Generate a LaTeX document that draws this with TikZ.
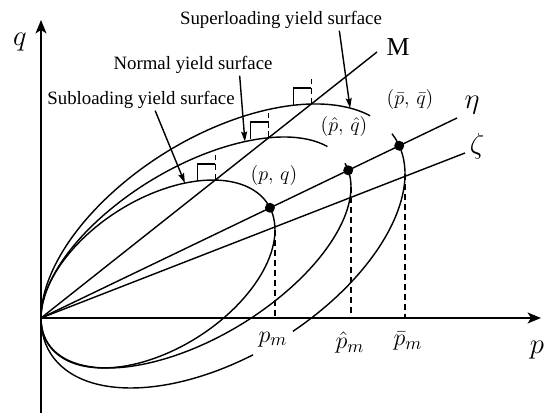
\documentclass[tikz,border=0pt]{standalone}
\usepackage{fontspec}
\setmainfont{Liberation Serif}
\usetikzlibrary{arrows.meta}

\begin{document}
\begin{tikzpicture}[x=0.6pt,y=0.6pt,
  curve/.style={line width=0.85pt},
  axisline/.style={line width=1.2pt,-{Stealth[length=8pt,width=6.5pt,inset=2pt]}},
  pointer/.style={line width=0.85pt,-{Stealth[length=6pt,width=3.6pt,inset=1pt]}},
  guide/.style={line width=0.8pt,dash pattern=on 3.8pt off 2.2pt},
  surflabel/.style={font=\fontsize{11.3}{13}\selectfont,inner sep=1pt},
  statelabel/.style={font=\fontsize{12.5}{14}\selectfont,inner sep=1pt},
  pmlabel/.style={font=\fontsize{15}{17}\selectfont,inner sep=1pt,anchor=north},
  bigsym/.style={font=\fontsize{19}{21}\selectfont,inner sep=0pt},
  dot/.style={circle,fill,inner sep=0pt,minimum size=6pt}
]
  \useasboundingbox (-41,-97) rectangle (506,318);
  \coordinate (O) at (0,0);
  \coordinate (qbot) at (0,-95);
  \coordinate (qtop) at (0,298);
  \coordinate (pleft) at (-1,0);
  \coordinate (pright) at (500,0);
  \coordinate (Mend) at (336,266);
  \coordinate (etaend) at (416,200);
  \coordinate (zetaend) at (424,165);

  % axes
  \draw[axisline] (qbot) -- (qtop);
  \draw[axisline] (pleft) -- (pright);
  \node[bigsym] (qlbl) at (-21,276) {$q$};
  \node[bigsym] (plbl) at (496,-32) {$p$};

  % stress ratio lines
  \draw[curve] (O) -- (Mend);
  \draw[curve] (O) -- (etaend);
  \draw[curve] (O) -- (zetaend);
  \node[font=\fontsize{15.5}{18}\selectfont,inner sep=0pt] (Mlbl) at (357,271) {M};
  \node[bigsym] (etalbl) at (431,213) {$\eta$};
  \node[bigsym] (zetalbl) at (436,172) {$\zeta$};

  % subloading surface
  \begin{scope}[cm={117,44,0,83,(117,44)}]
    \draw[curve] (0,0) circle (1);
    \coordinate (rSub) at (0:1);
    \coordinate (mSub) at (60.7:1);
    \coordinate (aSub) at (76.7:1);
    \coordinate (dSub) at (16.9:1);
  \end{scope}
  % normal yield surface
  \begin{scope}[cm={155,65.5,0,95.1,(155,65.5)}]
    \draw[curve] (32:1) arc[start angle=32,end angle=376,radius=1];
    \coordinate (rNor) at (0:1);
    \coordinate (mNor) at (62.06:1);
    \coordinate (aNor) at (71.6:1);
    \coordinate (dNor) at (10.84:1);
  \end{scope}
  % superloading surface
  \begin{scope}[cm={182,72,0,122.4,(182,72)}]
    \draw[curve] (36.1:1) arc[start angle=36.1,end angle=279.5,radius=1];
    \draw[curve] (-67.4:1) arc[start angle=-67.4,end angle=21.8,radius=1];
    \coordinate (rSup) at (0:1);
    \coordinate (mSup) at (61:1);
    \coordinate (aSup) at (45.7:1);
    \coordinate (dSup) at (14.44:1);
  \end{scope}

  % normals at the tops
  \foreach \m in {mSub,mNor,mSup}{
    \draw[guide] (\m) -- ++(0,25);
    \draw[curve] (\m) ++(-18,-1) -- ++(0,17) -- ++(18,0);
  }

  % p_m guides
  \draw[guide] (rSub) -- (rSub |- O);
  \draw[guide] (rNor) -- (rNor |- O);
  \draw[guide] (rSup) -- (rSup |- O);
  \node[pmlabel] (pm) at (232,-12) {$p_m$};
  \node[pmlabel] (pmhat) at (309,-12) {$\hat{p}_m$};
  \node[pmlabel] (pmbar) at (367,-12) {$\bar{p}_m$};

  % stress points
  \node[dot] (ptSub) at (dSub) {};
  \node[dot] (ptNor) at (dNor) {};
  \node[dot] (ptSup) at (dSup) {};
  \node[statelabel] (lblpq) at (233,142) {$(p,\,q)$};
  \node[statelabel] (lblhat) at (303,191) {$(\hat{p},\,\hat{q})$};
  \node[statelabel] (lblbar) at (369,218) {$(\bar{p},\,\bar{q})$};

  % surface names
  \node[surflabel] (lblSup) at (240,298) {Superloading yield surface};
  \node[surflabel] (lblNor) at (152,253) {Normal yield surface};
  \node[surflabel] (lblSub) at (100,218) {Subloading yield surface};
  \draw[pointer] ([xshift=35pt]lblSup.south) -- (aSup);
  \draw[pointer] ([xshift=28pt]lblNor.south) -- (aNor);
  \draw[pointer] ([xshift=8.5pt]lblSub.south) -- (aSub);
\end{tikzpicture}
\end{document}
